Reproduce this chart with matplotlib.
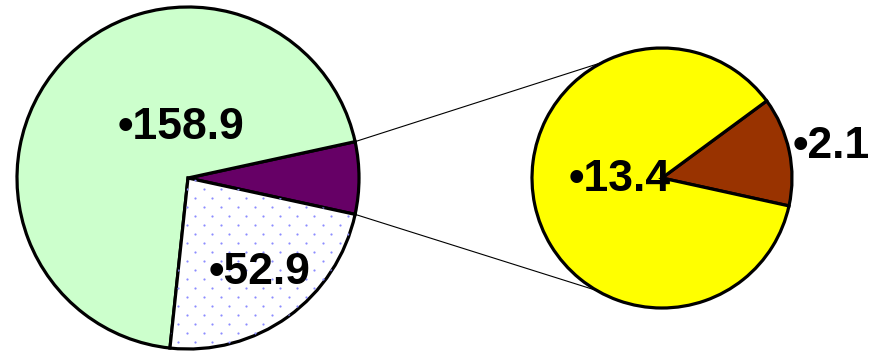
import numpy as np
import matplotlib
matplotlib.use('Agg')
import matplotlib.pyplot as plt

plt.rcParams['font.family'] = ['Liberation Sans', 'DejaVu Sans']

# second pie: breakdown of the small slice of the first pie
sub_values = [2.1, 13.4]
sub_colors = ['#993300', '#ffff00']

# first pie: the broken-out slice, then the two big ones
main_values = [sum(sub_values), 158.9, 52.9]
main_colors = ['#660066', '#ccffcc', 'white']

W, H = 878, 351
main_c, main_r = (188, 173), 171
sub_c, sub_r = (662, 173), 130

fig = plt.figure(figsize=(W / 100, H / 100), dpi=100)
ax = fig.add_axes([0, 0, 1, 1])

edge = dict(linewidth=2.3, edgecolor='black')

# split slice sits centred on the right-hand side
main_start = -180 * main_values[0] / sum(main_values)
wedges, _ = ax.pie(main_values, colors=main_colors, startangle=main_start,
                   center=main_c, radius=main_r, wedgeprops=edge)
wedges2, _ = ax.pie(sub_values, colors=sub_colors, startangle=-12.4,
                    center=sub_c, radius=sub_r, wedgeprops=edge)

# dotted fill on the 52.9 slice
gx, gy = np.meshgrid(np.arange(0, W, 17.0), np.arange(0, H, 9.0))
gx[1::2] += 8.5
dots = ax.scatter(gx.ravel(), gy.ravel(), s=2.5, color='#8c8cff',
                  linewidths=0, zorder=1.5)
dots.set_clip_path(wedges[2])

# connector lines from the split slice to the second pie
half = np.radians(-main_start)
for a_main, a_sub in [(half, np.radians(117)), (-half, np.radians(-120))]:
    x0 = main_c[0] + main_r * np.cos(a_main)
    y0 = main_c[1] + main_r * np.sin(a_main)
    x1 = sub_c[0] + sub_r * np.cos(a_sub)
    y1 = sub_c[1] + sub_r * np.sin(a_sub)
    ax.plot([x0, x1], [y0, y1], color='black', lw=0.8, zorder=0.5)

# value labels
label_pos = [
    (main_values[1], 181, H - 128),
    (main_values[2], 260, H - 273),
    (sub_values[1], 620, H - 180),
    (sub_values[0], 831, H - 147),
]
for v, x, y in label_pos:
    ax.text(x, y, '\u2022%.1f' % v, fontsize=32, fontweight='bold',
            ha='center', va='center', zorder=5)

ax.set_xlim(0, W)
ax.set_ylim(0, H)
ax.set_aspect('equal')
ax.axis('off')

fig.savefig('out.png', dpi=100)
